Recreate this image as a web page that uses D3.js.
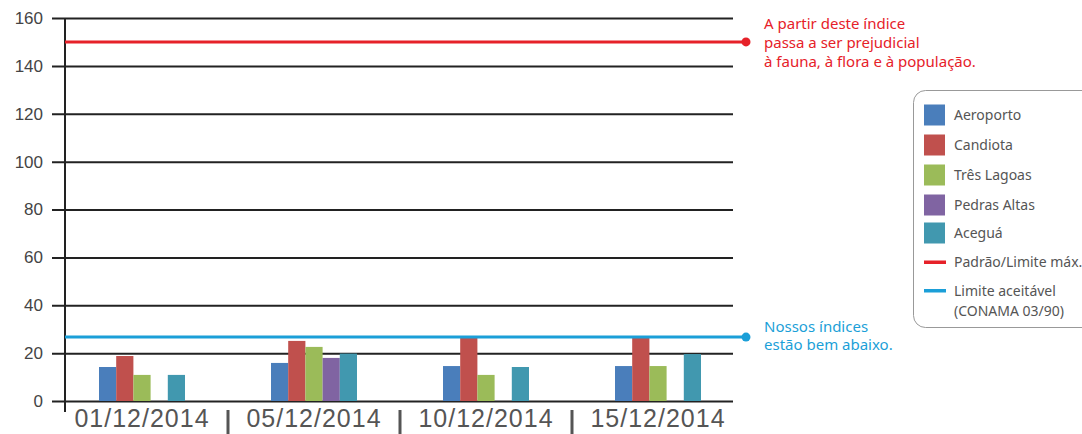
<!DOCTYPE html>
<html>
<head>
<meta charset="utf-8">
<script src="https://cdn.jsdelivr.net/npm/d3@7"></script>
<style>
  body { margin: 0; background: #fff; }
  svg { display: block; font-family: "Open Sans", "Noto Sans", sans-serif; }
  .note { font-family: "Noto Sans", "Open Sans", sans-serif; font-size: 15px; }
  .legend-text { font-family: "Noto Sans", "Open Sans", sans-serif; font-size: 14px; fill: #555; }
</style>
</head>
<body>
<div id="chart"></div>
<script>
// data
var dates = ["01/12/2014", "05/12/2014", "10/12/2014", "15/12/2014"];
var series = ["Aeroporto", "Candiota", "Três Lagoas", "Pedras Altas", "Aceguá"];
var aeroporto = [14.2, 15.9, 14.6, 14.6];
var candiota = [18.8, 25.1, 27, 27];
var tresLagoas = [10.9, 22.6, 10.9, 14.6];
var pedrasAltas = [null, 18, null, null];
var acegua = [10.9, 19.8, 14.2, 19.6];
var yTicks = [0, 20, 40, 60, 80, 100, 120, 140, 160];
var limiteMax = 150;
var limiteAceitavel = 26.7;

var colors = ["#4a7ebb", "#c0504d", "#9bbb59", "#8064a2", "#4198af"];
var redColor = "#e62129";
var blueColor = "#1b9fd8";

var svgWidth = 1082;
var svgHeight = 434;

var svg = d3.select("#chart")
  .append("svg")
  .attr("width", svgWidth)
  .attr("height", svgHeight);

var values = [aeroporto, candiota, tresLagoas, pedrasAltas, acegua];
var data = [];
dates.forEach(function(d, i) {
  series.forEach(function(s, j) {
    if (values[j][i] != null) data.push({date: d, serie: s, idx: j, value: values[j][i]});
  });
});

// scales
var y = d3.scaleLinear().domain([0, 160]).range([401, 18]);
var x0 = d3.scaleBand().domain(dates).range([56, 744]).padding(0);
var bw = x0.bandwidth();
var x1 = d3.scaleBand().domain(series).range([bw * 0.25, bw * 0.75]).padding(0);

// y axis with gridlines
var leftAxis = d3.axisLeft(y).tickValues(yTicks).tickSize(0).tickPadding(22);
var yAxis = svg.append("g")
  .attr("transform", "translate(65,0)")
  .call(leftAxis);
yAxis.select(".domain").remove();
yAxis.selectAll(".tick line")
  .attr("x1", -13)
  .attr("x2", 668)
  .attr("stroke", "#222")
  .attr("stroke-width", 2);
yAxis.selectAll(".tick text")
  .attr("fill", "#444")
  .style("font-size", "17px");

// bars
svg.append("g").selectAll("rect")
  .data(data)
  .enter()
  .append("rect")
  .attr("x", function(d) { return x0(d.date) + x1(d.serie); })
  .attr("y", function(d) { return y(d.value); })
  .attr("width", x1.bandwidth())
  .attr("height", function(d) { return y(0) - y(d.value); })
  .attr("fill", function(d) { return colors[d.idx]; });

// vertical axis line
svg.append("line")
  .attr("x1", 65).attr("x2", 65)
  .attr("y1", y(160)).attr("y2", 412)
  .attr("stroke", "#222")
  .attr("stroke-width", 2);

// x axis labels and separators
var bottomAxis = d3.axisBottom(x0).tickSize(0).tickPadding(0);
var xAxis = svg.append("g")
  .attr("transform", "translate(0,409)")
  .call(bottomAxis);
xAxis.select(".domain").remove();
xAxis.selectAll(".tick text")
  .attr("dy", "0.71em")
  .attr("fill", "#555")
  .style("font-size", "25px")
  .style("letter-spacing", "1px");

svg.append("g").selectAll("line")
  .data(dates.slice(1))
  .enter()
  .append("line")
  .attr("x1", function(d) { return x0(d); })
  .attr("x2", function(d) { return x0(d); })
  .attr("y1", 410).attr("y2", 434)
  .attr("stroke", "#555")
  .attr("stroke-width", 3);

// reference lines
svg.append("line")
  .attr("x1", 65).attr("x2", 746)
  .attr("y1", y(limiteMax)).attr("y2", y(limiteMax))
  .attr("stroke", redColor).attr("stroke-width", 3);
svg.append("circle")
  .attr("cx", 746).attr("cy", y(limiteMax)).attr("r", 4.5)
  .attr("fill", redColor);

svg.append("line")
  .attr("x1", 65).attr("x2", 746)
  .attr("y1", y(limiteAceitavel)).attr("y2", y(limiteAceitavel))
  .attr("stroke", blueColor).attr("stroke-width", 3);
svg.append("circle")
  .attr("cx", 746).attr("cy", y(limiteAceitavel)).attr("r", 4.5)
  .attr("fill", blueColor);

// annotations
var redNote = svg.append("text")
  .attr("class", "note")
  .attr("fill", redColor);
["A partir deste índice", "passa a ser prejudicial", "à fauna, à flora e à população."].forEach(function(t, i) {
  redNote.append("tspan").attr("x", 764).attr("y", 29 + i * 19).text(t);
});

var blueNote = svg.append("text")
  .attr("class", "note")
  .attr("fill", blueColor);
["Nossos índices", "estão bem abaixo."].forEach(function(t, i) {
  blueNote.append("tspan").attr("x", 764).attr("y", 332 + i * 18).text(t);
});

// legend
var legend = svg.append("g");
legend.append("rect")
  .attr("x", 913.5).attr("y", 90.5)
  .attr("width", 200).attr("height", 237)
  .attr("rx", 12)
  .attr("fill", "#fff")
  .attr("stroke", "#999")
  .attr("stroke-width", 1);

var rowY = [115, 145, 175, 205, 233];
series.forEach(function(s, i) {
  legend.append("rect")
    .attr("x", 924).attr("y", rowY[i] - 10.5)
    .attr("width", 21).attr("height", 21)
    .attr("fill", colors[i]);
  legend.append("text")
    .attr("class", "legend-text")
    .attr("x", 954).attr("y", rowY[i] + 5)
    .text(s);
});

legend.append("rect")
  .attr("x", 924).attr("y", 260.5).attr("width", 22).attr("height", 3.5)
  .attr("fill", redColor);
legend.append("text")
  .attr("class", "legend-text")
  .attr("x", 954).attr("y", 267)
  .text("Padrão/Limite máx.");

legend.append("rect")
  .attr("x", 924).attr("y", 289).attr("width", 22).attr("height", 3.5)
  .attr("fill", blueColor);
var lt = legend.append("text").attr("class", "legend-text");
lt.append("tspan").attr("x", 954).attr("y", 296).text("Limite aceitável");
lt.append("tspan").attr("x", 954).attr("y", 316).text("(CONAMA 03/90)");
</script>
</body>
</html>
